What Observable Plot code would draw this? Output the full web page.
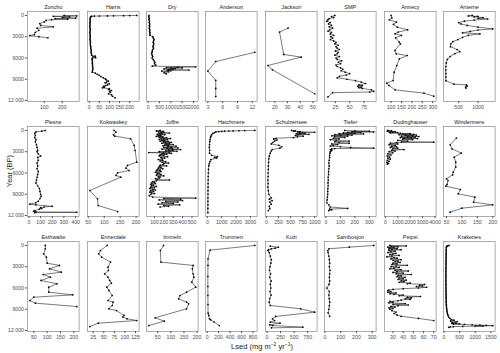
<!DOCTYPE html>
<html><head><meta charset="utf-8">
<script src="https://cdn.jsdelivr.net/npm/d3@7"></script>
<script src="https://cdn.jsdelivr.net/npm/@observablehq/plot@0.6"></script>
<style>
html,body{margin:0;padding:0;background:#fff;}
#chart{position:relative;width:500px;height:353px;overflow:hidden;font-family:"Liberation Sans",Arial,sans-serif;}
#chart svg{position:absolute;overflow:visible;}
.ylab{position:absolute;left:9px;top:171px;transform:translate(-50%,-50%) rotate(-90deg);font-size:7.5px;color:#1a1a1a;white-space:nowrap;}
.xlab{position:absolute;left:262px;top:346px;transform:translate(-50%,-50%);font-size:7.5px;color:#1a1a1a;white-space:nowrap;}
.xlab sup{font-size:5px;}
</style></head><body><div id="chart"></div>
<script>
// ---- data: [Year BP, Lsed] ----
const zoncho = [[0,210],[60,280],[120,150],[200,240],[300,200],[380,275],[450,160],[520,230],[600,140],[700,110],[900,100],[1150,75],[1400,80],[1600,150],[1800,60],[2100,70],[2400,50],[2700,45],[2850,20],[3000,70],[3150,120]];
const harris = [[0,235],[15,200],[30,170],[45,120],[60,90],[75,50],[90,25],[110,12],[150,8],[250,6],[400,5],[600,4],[800,5],[1000,4],[1200,3],[1400,4],[1600,3],[1800,4],[2000,5],[2200,4],[2400,3],[2600,4],[2800,5],[3000,4],[3200,5],[3400,4],[3600,5],[3800,6],[4000,5],[4200,6],[4400,7],[4600,8],[4800,9],[5000,10],[5200,9],[5400,11],[5600,12],[5750,30],[5850,18],[5950,32],[6050,15],[6200,14],[6400,15],[6600,16],[6800,15],[7000,17],[7200,16],[7400,18],[7600,17],[7800,16],[8000,15],[8150,30],[8300,40],[8450,50],[8620,58],[8800,70],[8950,80],[9100,85],[9270,95],[9400,85],[9500,78],[9650,100],[9800,90],[9900,80],[10020,70],[10100,75],[10210,65],[10350,100],[10450,95],[10590,110],[10700,100],[10850,105],[11060,95],[11200,110],[11400,115],[11630,128]];
const dry = [[0,40],[200,30],[400,50],[600,35],[800,60],[1000,45],[1200,70],[1400,55],[1600,65],[1800,50],[2000,75],[2200,60],[2400,80],[2600,70],[2800,85],[3000,200],[3200,230],[3400,260],[3600,240],[3800,220],[4000,250],[4200,230],[4400,210],[4600,240],[4800,200],[5000,180],[5200,170],[5400,150],[5600,180],[5800,200],[6000,170],[6200,220],[6400,260],[6600,300],[6800,280],[7000,340],[7150,180],[7250,2100],[7300,1300],[7350,800],[7400,1500],[7450,1000],[7500,1200],[7550,700],[7600,1100],[7650,900],[7700,1800],[7750,850],[7800,1000],[7850,600],[7950,900],[8100,700],[8250,800]];
const anderson = [[5200,12.5],[6500,4.6],[7850,3],[9150,4.6],[10300,4.6],[11450,4.6]];
const jackson = [[1790,30.4],[2350,23.7],[5500,27],[5880,40.7],[7060,14.5],[7670,18.1],[11050,51.4]];
const smp = [[0,24],[150,18],[300,22],[450,14],[600,12],[800,10],[1000,16],[1200,13],[1400,18],[1600,14],[1800,20],[2000,15],[2200,12],[2400,18],[2600,16],[2800,22],[3000,17],[3200,20],[3400,16],[3600,22],[3800,26],[4000,24],[4200,30],[4400,26],[4600,28],[4800,32],[5000,25],[5200,30],[5400,28],[5600,24],[5800,32],[6000,26],[6200,28],[6400,36],[6600,30],[6800,34],[7000,26],[7200,28],[7400,34],[7600,38],[7800,35],[8000,42],[8200,50],[8400,44],[8600,32],[8800,28],[9000,45],[9200,60],[9400,70],[9600,78],[9800,66],[9900,72],[10000,64],[10100,70],[10200,66],[10300,72],[10500,88],[10700,92],[10800,85],[10900,20],[11500,12]];
const annecy = [[0,100],[350,104],[620,92],[940,126],[1270,112],[1650,130],[2020,180],[2350,134],[2590,119],[2820,150],[3150,122],[3770,140],[4000,145],[4940,119],[5410,125],[5650,178],[6120,140],[7060,128],[8000,115],[9180,110],[9560,80],[9880,90],[10500,120],[10970,258],[11390,305]];
const anterne = [[0,850],[60,750],[120,1000],[200,900],[300,1130],[400,1000],[500,1250],[650,900],[800,650],[1000,500],[1200,560],[1400,720],[1650,1000],[1900,1380],[2050,1000],[2250,800],[2450,600],[2600,1050],[2800,750],[3100,600],[3400,480],[3700,350],[4000,300],[4400,290],[4800,460],[5100,530],[5400,400],[5800,280],[6200,210],[6700,180],[7200,170],[7700,170],[8200,170],[8700,170],[9200,170],[9700,380],[9800,700],[9950,720],[10100,680],[10250,690]];
const plesne = [[0,140],[100,110],[200,60],[400,50],[700,55],[1000,50],[1300,60],[1600,55],[2000,65],[2400,70],[2800,75],[3000,70],[3300,80],[3600,100],[3800,75],[4200,80],[4600,70],[5000,75],[5400,70],[5800,80],[6200,75],[6600,70],[7000,65],[7400,60],[7800,75],[8200,90],[8600,95],[9000,100],[9300,105],[9600,95],[10000,80],[10200,60],[10400,8],[10500,60],[10700,200],[10800,130],[10900,100],[11000,110],[11100,90],[11300,50],[11400,40],[11500,60],[11550,410],[11600,50]];
const kokwaskey = [[0,131],[235,137],[612,129],[800,133],[1180,183],[2118,194],[2824,197],[4470,202],[4940,173],[5320,168],[5650,178],[5980,142],[6350,137],[6590,152],[8470,55],[9650,79],[10590,81],[11440,142]];
const joffre = [[0,160],[60,120],[120,190],[180,140],[240,200],[300,170],[360,260],[420,150],[480,180],[540,130],[600,210],[660,160],[720,140],[780,170],[840,120],[900,190],[960,150],[1020,230],[1080,170],[1140,270],[1200,200],[1260,150],[1320,240],[1380,180],[1440,210],[1500,160],[1560,250],[1620,200],[1680,280],[1740,220],[1800,180],[1860,260],[1920,230],[1980,300],[2040,210],[2100,250],[2160,190],[2220,330],[2280,240],[2340,280],[2400,200],[2460,350],[2520,230],[2580,290],[2640,180],[2700,380],[2760,250],[2820,300],[2880,220],[2940,340],[3000,150],[3060,260],[3120,40],[3180,200],[3240,280],[3300,180],[3360,230],[3420,160],[3500,200],[3600,150],[3700,240],[3800,170],[3900,210],[4000,180],[4100,140],[4200,190],[4300,160],[4400,220],[4500,180],[4600,250],[4700,200],[4800,190],[4900,160],[5000,230],[5100,150],[5200,170],[5300,140],[5400,190],[5500,130],[5600,160],[5700,120],[5800,170],[5900,110],[6000,150],[6100,130],[6200,170],[6300,120],[6400,200],[6500,140],[6600,160],[6700,150],[6800,110],[6900,130],[7000,260],[7100,120],[7200,80],[7300,100],[7400,70],[7500,110],[7600,60],[7700,90],[7800,70],[7900,120],[8000,60],[8100,100],[8200,50],[8300,80],[8400,110],[8500,60],[8600,90],[8700,50],[8800,70],[8900,100],[9000,60],[9200,45],[9400,80],[9550,540],[9600,200],[9700,380],[9800,150],[9900,400],[10000,220],[10100,350],[10200,180],[10300,300],[10400,140],[10500,370],[10600,200],[10700,250],[10800,160]];
const hatchmere = [[0,3300],[20,2600],[40,2200],[60,1800],[80,1500],[100,1200],[130,1000],[160,800],[200,600],[300,500],[400,380],[600,300],[800,250],[1000,220],[1300,190],[1600,170],[2000,150],[2400,140],[2800,160],[3200,150],[3500,300],[3700,700],[3800,500],[3900,650],[4100,250],[4400,180],[4700,130],[5000,100],[5500,80],[6000,70],[6500,60],[7000,55],[7500,50],[8000,50],[8500,45],[9000,45],[9500,40],[10000,40],[10500,40],[11000,35],[11600,35]];
const schulzensee = [[0,520],[50,600],[100,560],[150,700],[200,650],[250,1000],[300,750],[350,680],[400,800],[450,620],[500,700],[550,880],[600,650],[700,600],[800,760],[900,640],[1000,560],[1100,200],[1200,150],[1350,220],[1500,170],[1700,130],[1900,100],[2100,260],[2300,320],[2500,280],[2700,120],[2900,100],[3200,80],[3600,60],[4000,50],[4500,45],[5000,40],[5500,40],[6000,35],[6500,35],[7000,30],[7500,35],[8000,30],[8500,40],[9000,50],[9500,100],[9700,60],[9900,120],[10100,70],[10400,100],[10700,60],[11000,70],[11300,40]];
const tiefer = [[0,130],[50,200],[100,300],[150,180],[200,330],[250,150],[300,240],[350,120],[400,200],[450,90],[500,260],[550,150],[600,60],[650,180],[700,100],[750,40],[800,150],[900,60],[1000,130],[1100,50],[1200,90],[1300,30],[1400,70],[1500,160],[1600,60],[1700,90],[1800,160],[1900,40],[2000,80],[2100,50],[2200,30],[2300,100],[2400,170],[2500,330],[2550,60],[2600,40],[2700,30],[2800,40],[2900,35],[3000,30],[3200,28],[3500,25],[3800,25],[4200,22],[4600,20],[5000,22],[5400,20],[5800,18],[6200,18],[6600,15],[7000,16],[7400,14],[7800,15],[8200,13],[8600,12],[9000,12],[9400,10],[9800,8],[10200,6],[10500,20],[10800,30],[11000,150],[11100,25],[11200,40],[11300,20]];
const dudinghauser = [[0,200],[50,500],[100,150],[150,800],[200,300],[250,600],[300,1000],[350,400],[400,1200],[450,2000],[500,1400],[550,2300],[600,1100],[650,2500],[700,1600],[750,2200],[800,1300],[850,2700],[900,1800],[950,2400],[1000,1200],[1050,2100],[1100,1500],[1150,2600],[1200,1400],[1300,2200],[1400,1000],[1500,1800],[1600,1300],[1650,3900],[1700,900],[1800,400],[1900,1000],[2000,300],[2100,800],[2200,500],[2300,900],[2400,400],[2500,1000],[2600,600],[2700,1500],[2800,500],[2900,800],[3000,300],[3150,600],[3300,200],[3450,450],[3600,150],[3750,350],[3900,200],[4050,400],[4200,150],[4350,300],[4500,120],[4650,250],[4750,150]];
const windermere = [[1080,82],[2020,62],[2590,68],[3200,98],[3770,75],[4470,80],[5180,80],[5880,72],[6260,70],[6820,50],[7060,55],[7620,52],[7860,48],[8330,95],[8940,88],[9410,142],[10120,138],[10500,200],[10970,100],[11530,62]];
const esthwaite = [[0,93],[470,93],[1180,87],[1650,97],[2500,100],[2820,146],[3300,109],[3770,153],[4100,85],[4470,112],[4940,77],[5410,137],[5880,106],[6590,106],[6970,196],[7300,50],[7770,35],[8140,56],[8620,211]];
const ennerdale = [[0,58],[710,42],[1180,38],[1650,45],[2350,66],[3060,60],[3530,61],[4000,52],[4470,60],[4940,64],[5320,68],[5880,57],[6350,62],[7060,70],[7770,60],[8000,72],[8470,70],[8940,62],[9180,80],[9880,98],[10100,95],[10350,105],[10590,128],[10970,37],[11440,17]];
const immeln = [[0,72],[710,60],[2350,62],[2820,185],[3300,182],[4000,185],[4470,188],[5180,180],[5880,195],[6590,160],[7060,135],[7530,130],[8000,160],[8240,168],[8940,160],[10210,40],[10680,75],[11300,16]];
const trummen = [[0,830],[660,50],[1880,15],[2820,14],[4380,12],[5790,12],[7060,13],[8330,14],[9550,16],[9880,28],[10350,40],[10500,60],[10800,120],[11300,210]];
const kuzi = [[100,60],[250,210],[380,150],[470,80],[600,30],[710,15],[1000,40],[1500,60],[2000,80],[2500,70],[3000,55],[3500,45],[4000,65],[4500,50],[5000,75],[5500,60],[6000,70],[6500,55],[7000,75],[7500,50],[8000,40],[8470,60],[8940,620],[9410,880],[10020,160],[10350,100],[10590,140],[10820,60],[10970,240],[11200,50],[11300,100],[11530,660],[11630,80]];
const sambosjon = [[0,310],[240,155],[470,25],[710,18],[1000,20],[1500,25],[2000,28],[2500,30],[3000,28],[3500,32],[4000,30],[4500,28],[5000,30],[5500,26],[6000,12],[6500,28],[7000,25],[7500,27],[8000,30],[8500,28],[9000,25],[9500,20],[10000,30]];
const peipsi = [[0,27],[60,43],[120,28],[180,35],[240,25],[300,31],[360,27],[420,34],[480,26],[540,29],[600,38],[700,26],[800,32],[900,28],[1000,25],[1100,33],[1200,30],[1300,27],[1400,36],[1500,29],[1600,24],[1700,31],[1800,34],[1900,28],[2000,38],[2100,30],[2200,35],[2300,32],[2400,37],[2500,30],[2600,34],[2700,29],[2800,44],[2900,33],[3000,28],[3100,36],[3200,31],[3300,27],[3400,38],[3500,32],[3600,45],[3700,34],[3800,30],[3900,40],[4000,33],[4100,48],[4200,35],[4300,38],[4400,34],[4500,42],[4600,36],[4700,40],[4800,35],[4900,43],[5000,38],[5100,41],[5200,36],[5300,47],[5400,44],[5500,61],[5600,56],[5700,59],[5800,53],[5900,63],[6000,55],[6100,40],[6200,30],[6300,26],[6400,25],[6500,28],[6600,25],[6700,33],[6800,27],[6900,31],[7000,40],[7100,36],[7200,57],[7300,44],[7400,48],[7500,42],[7600,47],[7700,38],[7800,35],[7900,27],[8000,30],[8100,26],[8200,42],[8300,30],[8400,45],[8500,35],[8600,28],[8700,32],[8800,26],[8900,30],[9000,27],[9200,29],[9400,33],[9600,31],[9800,34],[10000,38],[10300,55],[10600,70]];
const krakenes = [[0,160],[40,120],[80,95],[150,80],[300,75],[500,70],[700,72],[900,68],[1100,70],[1300,66],[1500,68],[1700,65],[1900,67],[2100,64],[2300,66],[2500,63],[2700,65],[2900,62],[3100,64],[3300,61],[3500,63],[3700,60],[3900,62],[4100,60],[4300,61],[4500,59],[4700,61],[4900,60],[5100,62],[5300,60],[5500,63],[5700,61],[5900,64],[6100,62],[6300,65],[6500,63],[6700,66],[6900,64],[7100,67],[7300,66],[7500,69],[7700,68],[7900,71],[8100,70],[8300,74],[8500,76],[8700,80],[8900,84],[9100,90],[9300,96],[9500,105],[9700,115],[9900,130],[10100,150],[10300,190],[10450,240],[10550,320],[10650,210],[10750,420],[10850,260],[10950,380],[11000,250],[11050,500],[11100,300],[11150,650],[11200,900],[11240,1150],[11280,1350],[11320,1560],[11350,1000],[11380,1250],[11420,600],[11460,300],[11500,200],[11550,150]];

const sites = ["Zoncho","Harris","Dry","Anderson","Jackson","SMP","Annecy","Anterne",
  "Plesne","Kokwaskey","Joffre","Hatchmere","Schulzensee","Tiefer","Dudinghauser","Windermere",
  "Esthwaite","Ennerdale","Immeln","Trummen","Kuzi","Sambosjon","Peipsi","Krakenes"];
const siteData = [zoncho,harris,dry,anderson,jackson,smp,annecy,anterne,
  plesne,kokwaskey,joffre,hatchmere,schulzensee,tiefer,dudinghauser,windermere,
  esthwaite,ennerdale,immeln,trummen,kuzi,sambosjon,peipsi,krakenes];
const xTicks = [[100,200],[0,50,100,150,200],[0,500,1000,1500,2000],[3,6,9,12],[20,30,40,50],[25,50,75],[100,150,200,250,300],[500,1000],
  [0,100,200,300,400],[50,100,150,200],[100,200,300,400,500],[0,1000,2000,3000],[0,250,500,750,1000],[0,100,200,300],[0,1000,2000,3000,4000],[50,100,150,200],
  [50,100,150,200],[25,50,75,100,125],[50,100,150,200],[0,200,400,600,800],[0,250,500,750],[0,100,200,300],[30,40,50,60,70],[0,500,1000,1500]];
const yTicks = [0,3000,6000,9000,12000];
const yTickLabels = ["0","3000","6000","9000","12 000"];
const yDomain = [-560, 12140];
const xTitle = "Lsed";

// ---- layout ----
const chart = document.getElementById("chart");
const left0 = 27.2, colStep = 59.4, frameW = 51.6, frameH = 90, top0 = 11, rowStep = 115;
const yLab = new Map(yTicks.map((t,i)=>[t,yTickLabels[i]]));

sites.forEach((name, i) => {
  const r = Math.floor(i/8), c = i % 8;
  const data = siteData[i].map(([year, v]) => ({year, v}));
  const ext = d3.extent(data, d => d.v);
  const pad = (ext[1]-ext[0]) * 0.05;
  const dom = [ext[0]-pad, ext[1]+pad];
  const ticks = xTicks[i].filter(t => t >= dom[0] && t <= dom[1]);
  const ml = c === 0 ? 28 : 4, mr = 4, mt = 12, mb = 14;
  const svg = Plot.plot({
    width: frameW + ml + mr,
    height: frameH + mt + mb,
    marginLeft: ml, marginRight: mr, marginTop: mt, marginBottom: mb,
    style: {fontSize: "5.2px", fontFamily: "'Liberation Sans', Arial, sans-serif", color: "#4d4d4d", background: "transparent", overflow: "visible"},
    x: {domain: dom},
    y: {domain: yDomain, reverse: true, axis: null},
    marks: [
      Plot.frame({stroke: "#8a8a8a", strokeWidth: 0.7}),
      Plot.line(data, {x: "v", y: "year", stroke: "#222", strokeWidth: 0.6}),
      Plot.dot(data, {x: "v", y: "year", r: 0.85, fill: "#000", stroke: null}),
      Plot.axisX(ticks, {tickSize: 2.2, tickPadding: 1.3, tickFormat: d => String(d), label: null, stroke: "#555", fontSize: 5.2}),
      c === 0 ? Plot.axisY(yTicks, {tickSize: 2.2, tickPadding: 1.3, tickFormat: d => yLab.get(d), label: null, stroke: "#555", fontSize: 5.2}) : null,
      Plot.text([name], {frameAnchor: "top", dy: -6, fontSize: 5.5, fill: "#1a1a1a"})
    ]
  });
  svg.style.position = "absolute";
  svg.style.left = (left0 + c*colStep - ml) + "px";
  svg.style.top = (top0 + r*rowStep - mt) + "px";
  chart.appendChild(svg);
});

const yl = document.createElement("div");
yl.className = "ylab"; yl.textContent = "Year (BP)";
chart.appendChild(yl);
const xl = document.createElement("div");
xl.className = "xlab";
xl.innerHTML = xTitle + " (mg m<sup>\u22122</sup> yr<sup>\u22121</sup>)";
chart.appendChild(xl);
</script></body></html>
